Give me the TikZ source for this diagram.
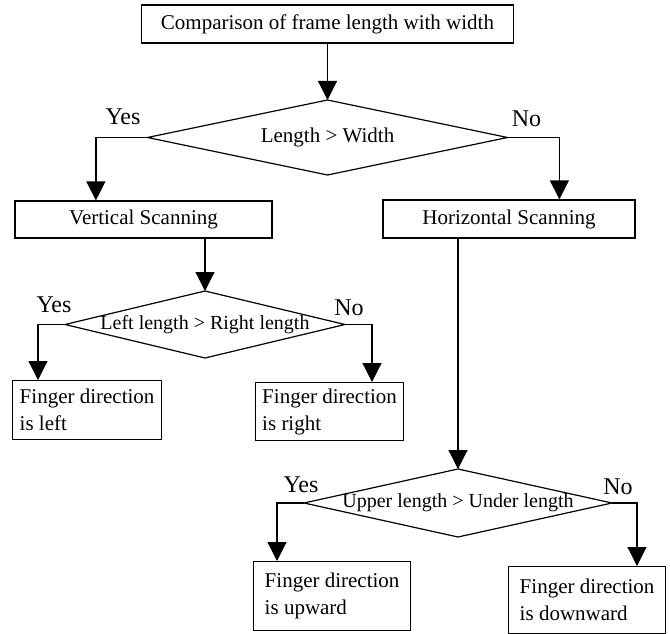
\documentclass[tikz,border=0pt]{standalone}
\usepackage{fontspec}
\setmainfont{Liberation Serif}
\usetikzlibrary{shapes.geometric, arrows.meta}

\begin{document}
\begin{tikzpicture}[x=1pt, y=-1pt,
          box/.style={rectangle, draw, line width=1.2pt, inner sep=0pt,
                      font=\fontsize{21}{25}\selectfont},
          leaf/.style={rectangle, draw, line width=1.2pt, align=left,
                       anchor=north west, inner xsep=6pt, inner ysep=2pt,
                       font=\fontsize{21}{27}\selectfont},
          dec/.style={diamond, draw, line width=1.2pt, inner sep=0pt,
                      outer sep=0pt},
          arr/.style={-{Triangle[length=19pt, width=19pt]}, line width=1.2pt},
          yn/.style={font=\fontsize{24}{28}\selectfont}
        ]
        \useasboundingbox (0,0) rectangle (670,634);

        % first test
        \node[box, minimum width=372pt, minimum height=38pt]
              (cmp) at (327.5, 24) {Comparison of frame length with width};
        \node[dec, minimum width=360pt, minimum height=75pt] (d1) at (327.5, 137.5) {};
        \node[font=\fontsize{21}{25}\selectfont] (t1) at (d1) {Length > Width};
        \node[yn] (y1) at (123, 117) {Yes};
        \node[yn] (n1) at (526.5, 119) {No};

        \node[box, minimum width=257pt, minimum height=37pt]
              (vs) at (143.5, 219.5) {Vertical Scanning};
        \node[box, minimum width=252pt, minimum height=38pt]
              (hs) at (509, 219) {Horizontal Scanning};
        \draw[arr] (cmp.south) -- (d1.north);
        \draw[arr] (d1.west) -| ([xshift=81.5pt]vs.north west);
        \draw[arr] (d1.east) -| ([xshift=177pt]hs.north west);

        % vertical branch
        \node[dec, minimum width=280pt, minimum height=67pt] (d2) at (205, 324.5) {};
        \node[font=\fontsize{20}{24}\selectfont] (t2) at (d2) {Left length > Right length};
        \node[yn] (y2) at (54, 305) {Yes};
        \node[yn] (n2) at (349, 308) {No};
        \node[leaf, minimum width=149pt, minimum height=59pt]
              (fl) at (12, 380) {Finger direction\\is left};
        \node[leaf, minimum width=148pt, minimum height=58pt]
              (fr) at (255, 382) {Finger direction\\is right};
        \draw[arr] (vs.south -| d2.north) -- (d2.north);
        \draw[arr] (d2.west) -| ([xshift=26pt]fl.north west);
        \draw[arr] (d2.east) -| ([xshift=117pt]fr.north west);

        % horizontal branch
        \node[dec, minimum width=308pt, minimum height=68pt] (d3) at (458, 503) {};
        \node[font=\fontsize{20}{24}\selectfont] (t3) at (d3) {Upper length > Under length};
        \node[yn] (y3) at (301, 485) {Yes};
        \node[yn] (n3) at (618, 487) {No};
        \node[leaf, minimum width=157pt, minimum height=69pt]
              (fu) at (253, 561) {Finger direction\\is upward};
        \node[leaf, minimum width=157pt, minimum height=67pt]
              (fd) at (508, 566) {Finger direction\\is downward};
        \draw[arr] (hs.south -| d3.north) -- (d3.north);
        \draw[arr] (d3.west) -| ([xshift=24pt]fu.north west);
        \draw[arr] (d3.east) -| ([xshift=129pt]fd.north west);
      \end{tikzpicture}
\end{document}
